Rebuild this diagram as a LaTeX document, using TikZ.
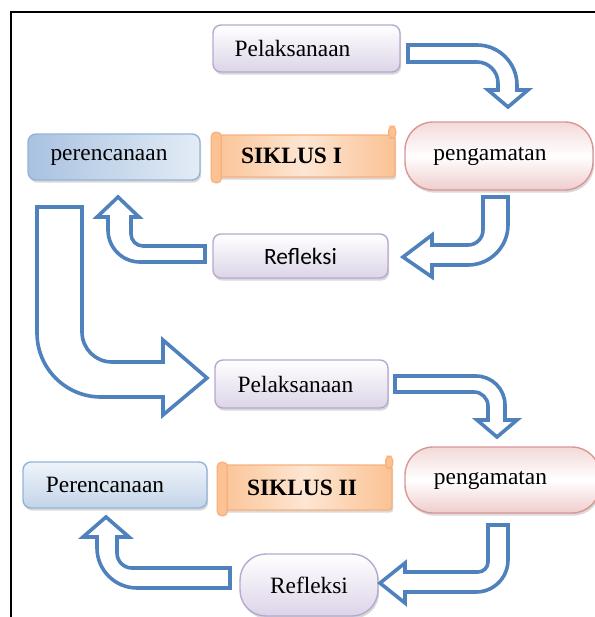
\documentclass[tikz,border=0pt]{standalone}
\usepackage{fontspec}
\setmainfont{Liberation Serif}
\newfontfamily\reffont{Carlito}
\usetikzlibrary{shadows}

\definecolor{arrowblue}{HTML}{4F81BD}
\definecolor{pelborder}{HTML}{B8A8CE}
\definecolor{peldark}{HTML}{DCD4E8}
\definecolor{renborder}{HTML}{95B3D7}
\definecolor{rendark}{HTML}{A9C2E0}
\definecolor{renlight}{HTML}{E3ECF6}
\definecolor{sikborder}{HTML}{F9B07C}
\definecolor{sikdark}{HTML}{FBC294}
\definecolor{siklight}{HTML}{FDE6D3}
\definecolor{engborder}{HTML}{D99694}
\definecolor{engdark}{HTML}{EFCDCC}

\begin{document}
\begin{tikzpicture}[x=0.5pt,y=-0.5pt,
    box/.style={rectangle,rounded corners=4pt,line width=0.7pt,
      font=\fontsize{11.7}{14}\selectfont,
      drop shadow={shadow xshift=0.6pt,shadow yshift=-1.3pt,opacity=0.3}},
    nudge/.style={execute at begin node={\hspace*{-#1}}},
    pelbox/.style={box,draw=pelborder,top color=white,bottom color=peldark},
    renbox/.style={box,draw=renborder},
    sikbox/.style={box,rounded corners=1.5pt,draw=sikborder,
      left color=sikdark,right color=sikdark,middle color=siklight,
      font=\fontsize{11.7}{14}\selectfont\bfseries},
    scrollpart/.style={draw=sikborder,fill=sikdark,line width=0.6pt,rounded corners=2pt},
    engbox/.style={box,rounded corners=14pt,draw=engborder,
      top color=engdark!75,bottom color=engdark,middle color=white},
    bigarrow/.style={draw=arrowblue,line width=1.8pt,fill=white,line join=miter}]

      \useasboundingbox (0,0) rectangle (595,617);
      \draw[line width=1pt] (11,617) -- (11,12) -- (595,12);

      % siklus I
      \node[pelbox,nudge=14pt,minimum width=93.5pt,minimum height=23.5pt] (pel1) at (306.5,48.5) {Pelaksanaan};
      \node[renbox,nudge=5pt,left color=rendark,right color=renlight,minimum width=86pt,minimum height=23pt] (ren1) at (114,157) {perencanaan};
      \node[sikbox,nudge=12pt,minimum width=91.5pt,minimum height=21pt] (sik1) at (303.5,156) {SIKLUS I};
      \node[engbox,nudge=9pt,minimum width=94pt,minimum height=34pt] (eng1) at (499,156) {pengamatan};
      \node[pelbox,font=\fontsize{11.7}{14}\reffont,minimum width=87.5pt,minimum height=22pt] (ref1) at (300.5,256) {Refleksi};

      % siklus II
      \node[pelbox,nudge=6pt,minimum width=86.5pt,minimum height=24pt] (pel2) at (301.5,384) {Pelaksanaan};
      \node[renbox,nudge=10pt,top color=renlight!60,bottom color=rendark!70,minimum width=92pt,minimum height=23pt] (ren2) at (115,485) {Perencanaan};
      \node[sikbox,nudge=3pt,minimum width=87pt,minimum height=22.5pt] (sik2) at (305,487.5) {SIKLUS II};
      \node[engbox,nudge=12pt,minimum width=97.5pt,minimum height=33pt] (eng2) at (502.5,480) {pengamatan};
      \node[pelbox,rounded corners=13pt,minimum width=69pt,minimum height=31pt] (ref2) at (309,585) {Refleksi};

      % scroll ends
      \foreach \s in {sik1,sik2} {
        \path[scrollpart] ([yshift=-2.5pt]\s.south west) rectangle ([xshift=5pt,yshift=1pt]\s.north west);
        \path[scrollpart] ([xshift=-3.5pt,yshift=4pt]\s.north east) rectangle ([yshift=-2pt]\s.north east);
      }

      % block arrows
      \path[bigarrow] (408,45) -- (477,45) .. controls (499,45) and (517,63) .. (517,85)
        -- (517,90) -- (528,90) -- (508,107) -- (488,90) -- (498,90) -- (498,83)
        .. controls (498,71.4) and (488.6,62) .. (477,62) -- (408,62) -- cycle;
      \path[bigarrow] (483,197) -- (508,197) -- (508,225) .. controls (508,247) and (490,265) .. (468,265)
        -- (432,265) -- (432,277) -- (403,257) -- (432,235) -- (432,245) -- (468,245)
        .. controls (476.3,245) and (483,238.3) .. (483,230) -- cycle;
      \path[bigarrow] (205,246) -- (205,262) -- (140,262) .. controls (122.3,262) and (108,247.7) .. (108,230)
        -- (108,217) -- (97,217) -- (118,197) -- (139,217) -- (131,217) -- (131,234)
        .. controls (131,240.6) and (136.4,246) .. (143,246) -- cycle;
      \path[bigarrow] (37,207) -- (82,207) -- (82,332) .. controls (82,348.6) and (95.4,362) .. (112,362)
        -- (163,362) -- (163,340) -- (207,378) -- (163,415) -- (163,397) -- (101,397)
        .. controls (65.7,397) and (37,368.3) .. (37,333) -- cycle;
      \path[bigarrow] (395,376) -- (476,376) .. controls (492,376) and (505,389) .. (505,405)
        -- (505,420) -- (517,420) -- (497,437) -- (477,420) -- (488,420) -- (488,406)
        .. controls (488,398.3) and (481.7,392) .. (474,392) -- (395,392) -- cycle;
      \path[bigarrow] (488,525) -- (508,525) -- (508,560) .. controls (508,577.7) and (493.7,592) .. (476,592)
        -- (405,592) -- (405,603) -- (380,583) -- (405,563) -- (405,572) -- (478,572)
        .. controls (483.5,572) and (488,567.5) .. (488,562) -- cycle;
      \path[bigarrow] (230,568) -- (230,588) -- (137,588) .. controls (115,588) and (97,570) .. (97,548)
        -- (97,537) -- (83,537) -- (106,517) -- (129,537) -- (117,537) -- (117,553)
        .. controls (117,561.3) and (123.7,568) .. (132,568) -- cycle;

    \end{tikzpicture}
\end{document}
